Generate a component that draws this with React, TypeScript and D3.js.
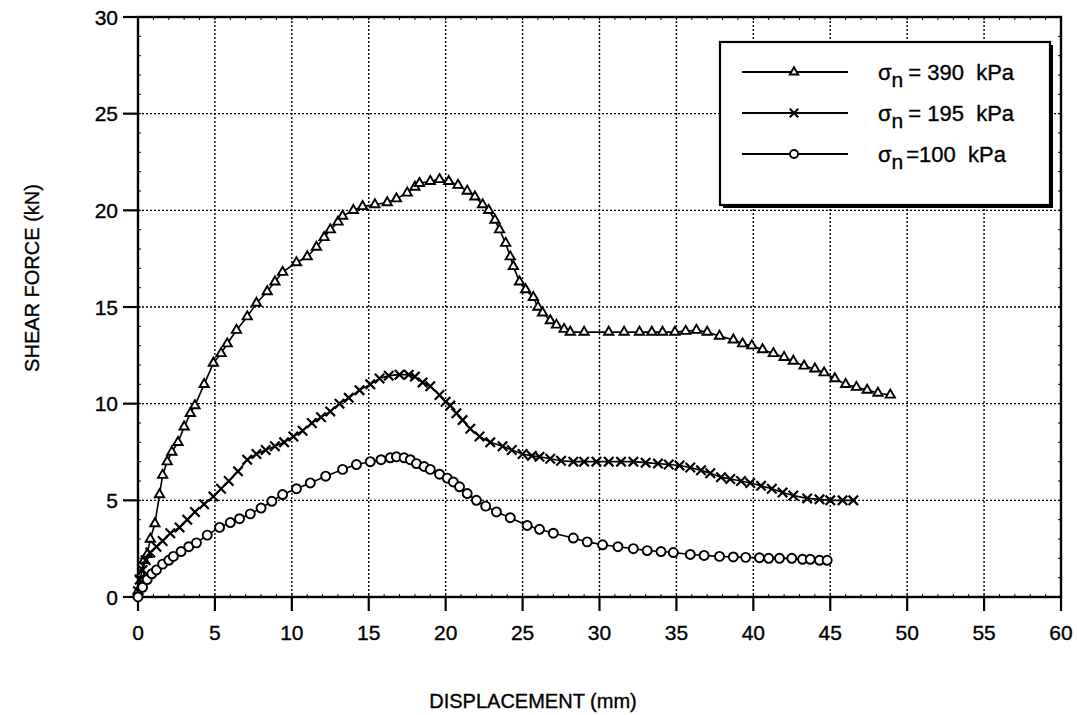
import React from "react";
import * as d3 from "d3";

// displacement (mm) / shear force (kN)
const s390x = [0, 0.2, 0.4, 0.6, 0.8, 1.1, 1.4, 1.6, 1.9, 2.2, 2.6, 3.0, 3.4, 3.7, 4.3, 4.9, 5.4, 5.8, 6.4, 7.1, 7.7, 8.4, 8.9, 9.4, 10.3, 11.0, 11.6, 12.1, 12.5, 13.0, 13.3, 14.0, 14.6, 15.4, 16.2, 16.8, 17.5, 18.0, 18.3, 19.0, 19.6, 20.2, 20.8, 21.4, 21.9, 22.4, 22.8, 23.2, 23.5, 23.9, 24.2, 24.4, 24.8, 25.2, 25.7, 26.0, 26.3, 26.8, 27.2, 27.7, 28.1, 29.0, 30.6, 31.6, 32.6, 33.4, 34.1, 34.9, 35.6, 36.3, 37.0, 37.8, 38.7, 39.3, 39.9, 40.6, 41.3, 42.0, 42.6, 43.3, 44.0, 44.6, 45.3, 46.0, 46.7, 47.4, 48.1, 48.9];
const s390y = [0.3, 1.2, 1.9, 2.2, 3.0, 3.8, 5.3, 6.3, 7.0, 7.5, 8.0, 8.8, 9.5, 9.9, 11.0, 12.1, 12.6, 13.1, 13.8, 14.5, 15.2, 15.8, 16.3, 16.8, 17.3, 17.6, 18.1, 18.6, 19.0, 19.4, 19.7, 20.0, 20.2, 20.3, 20.4, 20.6, 20.9, 21.2, 21.4, 21.5, 21.6, 21.5, 21.3, 21.0, 20.7, 20.3, 20.0, 19.5, 19.0, 18.3, 17.6, 17.1, 16.3, 15.9, 15.5, 15.0, 14.7, 14.3, 14.07, 13.85, 13.7, 13.7, 13.7, 13.7, 13.7, 13.7, 13.7, 13.7, 13.75, 13.8, 13.7, 13.5, 13.3, 13.1, 13.0, 12.8, 12.6, 12.4, 12.2, 11.95, 11.8, 11.6, 11.3, 11.0, 10.85, 10.7, 10.55, 10.45];

const s195x = [0, 0.1, 0.3, 0.5, 0.8, 1.2, 1.6, 2.1, 2.7, 3.2, 3.7, 4.3, 4.9, 5.4, 5.9, 6.5, 7.1, 7.7, 8.3, 8.9, 9.5, 10.1, 10.7, 11.3, 11.9, 12.5, 13.1, 13.7, 14.4, 15.1, 15.7, 16.3, 17.0, 17.6, 18.0, 18.5, 19.0, 19.6, 20.0, 20.3, 20.7, 21.1, 21.6, 22.2, 22.9, 23.7, 24.3, 25.0, 25.6, 26.1, 26.8, 27.5, 28.3, 29.0, 29.8, 30.6, 31.4, 32.2, 33.0, 33.8, 34.5, 35.2, 35.9, 36.6, 37.2, 37.9, 38.5, 39.2, 39.8, 40.5, 41.2, 41.9, 42.6, 43.5, 44.3, 45.0, 45.8, 46.5];
const s195y = [0.3, 0.9, 1.4, 1.9, 2.3, 2.6, 2.9, 3.3, 3.6, 4.0, 4.4, 4.8, 5.2, 5.6, 6.0, 6.5, 7.1, 7.4, 7.6, 7.8, 8.0, 8.3, 8.6, 9.0, 9.3, 9.6, 10.0, 10.3, 10.7, 11.0, 11.3, 11.45, 11.5, 11.5, 11.4, 11.1, 10.9, 10.45, 10.1, 9.9, 9.5, 9.15, 8.7, 8.3, 8.0, 7.8, 7.6, 7.4, 7.3, 7.25, 7.15, 7.05, 7.0, 7.0, 7.0, 7.0, 7.0, 7.0, 6.95, 6.9, 6.85, 6.8, 6.7, 6.55, 6.4, 6.2, 6.1, 6.0, 5.9, 5.75, 5.6, 5.4, 5.25, 5.1, 5.05, 5.0, 5.0, 5.0];

const s100x = [0, 0.3, 0.6, 0.9, 1.2, 1.6, 2.0, 2.3, 2.8, 3.3, 3.8, 4.5, 5.3, 6.0, 6.6, 7.3, 8.0, 8.7, 9.4, 10.3, 11.2, 12.2, 13.3, 14.2, 15.1, 15.8, 16.4, 16.8, 17.3, 17.7, 18.1, 18.6, 19.0, 19.6, 20.1, 20.5, 20.9, 21.4, 22.0, 22.6, 23.3, 24.2, 25.3, 26.1, 27.0, 28.3, 29.2, 30.2, 31.2, 32.2, 33.1, 34.0, 34.8, 35.9, 36.8, 37.8, 38.7, 39.5, 40.4, 41.0, 41.7, 42.5, 43.2, 43.7, 44.3, 44.8];
const s100y = [0, 0.5, 0.9, 1.2, 1.4, 1.7, 1.9, 2.1, 2.35, 2.6, 2.8, 3.2, 3.6, 3.85, 4.05, 4.3, 4.6, 4.95, 5.3, 5.6, 5.9, 6.25, 6.6, 6.85, 7.0, 7.1, 7.2, 7.25, 7.2, 7.1, 6.9, 6.75, 6.6, 6.35, 6.15, 5.95, 5.7, 5.35, 5.0, 4.7, 4.4, 4.1, 3.7, 3.5, 3.3, 3.05, 2.85, 2.7, 2.6, 2.5, 2.4, 2.35, 2.3, 2.2, 2.15, 2.1, 2.07, 2.05, 2.03, 2.0, 2.0, 2.0, 1.95, 1.95, 1.9, 1.9];

const xTicks = [0, 5, 10, 15, 20, 25, 30, 35, 40, 45, 50, 55, 60];
const yTicks = [0, 5, 10, 15, 20, 25, 30];
const legendValues = ["= 390\u00a0\u00a0kPa", "= 195\u00a0\u00a0kPa", "=100\u00a0\u00a0kPa"];

const FONT = "'Liberation Sans', Arial, Helvetica, sans-serif";

const M = { left: 138, top: 17, right: 1061, bottom: 597 };

export default function App() {
  const x = d3.scaleLinear().domain([0, 60]).range([M.left, M.right]);
  const y = d3.scaleLinear().domain([0, 30]).range([M.bottom, M.top]);

  const line = d3
    .line<[number, number]>()
    .x((d) => x(d[0]))
    .y((d) => y(d[1]));

  const series = [
    { xs: s390x, ys: s390y, sym: d3.symbolTriangle2, size: 62 },
    { xs: s195x, ys: s195y, sym: d3.symbolX, size: 60 },
    { xs: s100x, ys: s100y, sym: d3.symbolCircle, size: 64 },
  ];

  const minor = d3.range(0, 61, 1);
  const minorY = d3.range(0, 31, 1);

  const textStyle = { fontFamily: FONT, fill: "#000", stroke: "#000", strokeWidth: 0.35 };

  return (
    <svg width={1077} height={715} style={{ position: "absolute", left: 0, top: 0, background: "#fff" }}>
      {/* grid */}
      <g stroke="#000" strokeWidth={1.4} strokeDasharray="2,2">
        {xTicks.slice(1, -1).map((t) => (
          <line key={"gx" + t} x1={x(t)} x2={x(t)} y1={M.top} y2={M.bottom} />
        ))}
        {yTicks.slice(1, -1).map((t) => (
          <line key={"gy" + t} x1={M.left} x2={M.right} y1={y(t)} y2={y(t)} />
        ))}
      </g>

      {/* minor ticks inside the frame */}
      <g stroke="#000" strokeWidth={1}>
        {minor.map((t) => (
          <g key={"mx" + t}>
            <line x1={x(t)} x2={x(t)} y1={M.bottom} y2={M.bottom - 3} />
            <line x1={x(t)} x2={x(t)} y1={M.top} y2={M.top + 3} />
          </g>
        ))}
        {minorY.map((t) => (
          <g key={"my" + t}>
            <line x1={M.left} x2={M.left + 3} y1={y(t)} y2={y(t)} />
            <line x1={M.right} x2={M.right - 3} y1={y(t)} y2={y(t)} />
          </g>
        ))}
      </g>

      {/* frame */}
      <rect x={M.left} y={M.top} width={M.right - M.left} height={M.bottom - M.top} fill="none" stroke="#000" strokeWidth={2.4} />

      {/* major ticks and labels */}
      <g stroke="#000" strokeWidth={2.2}>
        {xTicks.map((t) => (
          <line key={"tx" + t} x1={x(t)} x2={x(t)} y1={M.bottom} y2={M.bottom + 14} />
        ))}
        {yTicks.map((t) => (
          <line key={"ty" + t} x1={M.left - 15} x2={M.left} y1={y(t)} y2={y(t)} />
        ))}
      </g>
      <g {...textStyle} fontSize={21}>
        {xTicks.map((t) => (
          <text key={"lx" + t} x={x(t)} y={640} textAnchor="middle">
            {t}
          </text>
        ))}
        {yTicks.map((t) => (
          <text key={"ly" + t} x={118} y={y(t) + 7.5} textAnchor="end">
            {t}
          </text>
        ))}
      </g>

      {/* axis titles */}
      <text x={533} y={708} textAnchor="middle" {...textStyle} fontSize={20}>
        DISPLACEMENT (mm)
      </text>
      <text transform="translate(39,278) rotate(-90)" textAnchor="middle" {...textStyle} fontSize={20}>
        SHEAR FORCE (kN)
      </text>

      {/* series */}
      {series.map((s, i) => {
        const pts: [number, number][] = s.xs.map((v, k) => [v, s.ys[k]]);
        const path = d3.symbol(s.sym, s.size)();
        return (
          <g key={"s" + i}>
            <path d={line(pts) || ""} fill="none" stroke="#000" strokeWidth={1.6} />
            {pts.map((p, k) => (
              <path
                key={k}
                d={path || ""}
                transform={`translate(${x(p[0])},${y(p[1])})`}
                fill={i === 1 ? "none" : "#fff"}
                stroke="#000"
                strokeWidth={i === 1 ? 2.2 : 1.9}
              />
            ))}
          </g>
        );
      })}

      {/* legend */}
      <rect x={723} y={45} width={330} height={163} fill="#000" />
      <rect x={720} y={42} width={330} height={163} fill="#fff" stroke="#000" strokeWidth={2.2} />
      {series.map((s, i) => {
        const ly = 72 + i * 41;
        const path = d3.symbol(s.sym, s.size * 0.8)();
        return (
          <g key={"lg" + i}>
            <line x1={742} x2={848} y1={ly} y2={ly} stroke="#000" strokeWidth={1.8} />
            <path
              d={path || ""}
              transform={`translate(794,${ly})`}
              fill={i === 1 ? "none" : "#fff"}
              stroke="#000"
              strokeWidth={2}
            />
            <text x={878} y={ly + 8} {...textStyle} fontSize={22}>
              σ
              <tspan fontSize={21} dy={7}>n</tspan>
              <tspan dy={-7} dx={i === 2 ? 3 : 5}>{legendValues[i]}</tspan>
            </text>
          </g>
        );
      })}
    </svg>
  );
}
